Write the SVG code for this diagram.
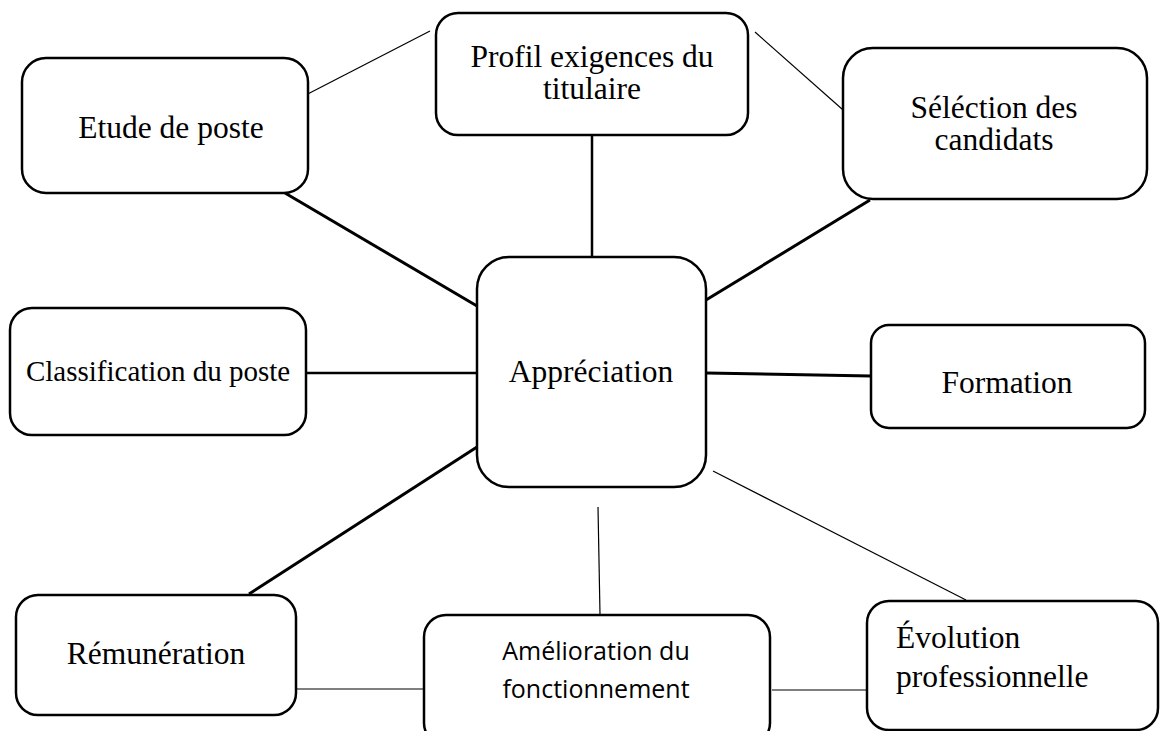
<svg xmlns="http://www.w3.org/2000/svg" width="1160" height="731" viewBox="0 0 1160 731">
  <style>
    .box { fill: #ffffff; stroke: #000000; stroke-width: 2.5; }
    .lbl { font-family: "Liberation Serif", "Times New Roman", serif; font-size: 31.5px; fill: #000000; text-anchor: middle; }
    .lbl-sans { font-family: "Open Sans", "Liberation Sans", sans-serif; font-size: 25px; fill: #000000; text-anchor: middle; }
    .thick { stroke: #000000; stroke-width: 3; fill: none; }
    .mid { stroke: #000000; stroke-width: 2.5; fill: none; }
    .thin { stroke: #000000; stroke-width: 1.2; fill: none; }
  </style>

  <!-- connectors -->
  <g id="connectors">
    <line class="thick" x1="285" y1="193" x2="477" y2="306"/>
    <line class="mid" x1="592" y1="135" x2="592" y2="258"/>
    <line class="thick" x1="870" y1="200" x2="706" y2="300"/>
    <line class="mid" x1="306" y1="373" x2="477" y2="373"/>
    <line class="thick" x1="706" y1="373" x2="871" y2="376"/>
    <line class="thick" x1="477" y1="447" x2="249" y2="594"/>
    <line class="thin" x1="598" y1="507" x2="600" y2="614"/>
    <line class="thin" x1="713" y1="471" x2="966" y2="600"/>
    <line class="thin" x1="282" y1="689" x2="424" y2="689"/>
    <line class="thin" x1="772" y1="690" x2="867" y2="690"/>
    <line class="thin" x1="298" y1="99" x2="430" y2="31"/>
    <line class="thin" x1="755" y1="32" x2="851" y2="117"/>
    <line x1="490" y1="482" x2="500" y2="482" stroke="#6fa8dc" stroke-width="1"/>
  </g>

  <g id="etude">
    <rect class="box" x="22" y="58" width="286" height="135" rx="24"/>
    <text class="lbl" x="171" y="138">Etude de poste</text>
  </g>

  <g id="profil">
    <rect class="box" x="436" y="13" width="312" height="122" rx="22"/>
    <text class="lbl" x="592" y="67">Profil exigences du</text>
    <text class="lbl" x="592" y="99">titulaire</text>
  </g>

  <g id="selection">
    <rect class="box" x="843" y="48" width="304" height="151" rx="30"/>
    <text class="lbl" x="994" y="118">Séléction des</text>
    <text class="lbl" x="994" y="150">candidats</text>
  </g>

  <g id="classification">
    <rect class="box" x="10" y="308" width="296" height="127" rx="22"/>
    <text class="lbl" x="158" y="381" style="font-size:29px">Classification du poste</text>
  </g>

  <g id="appreciation">
    <rect class="box" x="477" y="257" width="229" height="230" rx="32"/>
    <text class="lbl" x="591" y="382">Appréciation</text>
  </g>

  <g id="formation">
    <rect class="box" x="871" y="325" width="274" height="103" rx="18"/>
    <text class="lbl" x="1007" y="393">Formation</text>
  </g>

  <g id="remuneration">
    <rect class="box" x="16" y="595" width="280" height="120" rx="22"/>
    <text class="lbl" x="156" y="664">Rémunération</text>
  </g>

  <g id="amelioration">
    <rect class="box" x="424" y="615" width="346" height="130" rx="22"/>
    <text class="lbl-sans" x="596" y="660">Amélioration du</text>
    <text class="lbl-sans" x="596" y="698">fonctionnement</text>
  </g>

  <g id="evolution">
    <rect class="box" x="867" y="601" width="291" height="129" rx="22"/>
    <text class="lbl" x="896" y="648" style="text-anchor:start">Évolution</text>
    <text class="lbl" x="896" y="687" style="text-anchor:start">professionnelle</text>
  </g>
</svg>
